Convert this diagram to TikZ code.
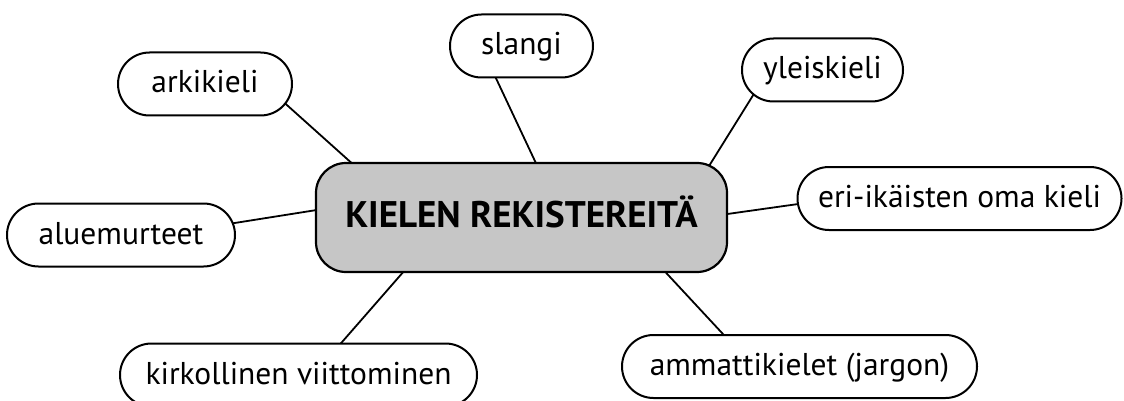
\documentclass[tikz,border=0pt]{standalone}
\usepackage{fontspec}
\setmainfont{PT Sans}
\usetikzlibrary{shapes.misc,calc,backgrounds}
\definecolor{hubgray}{RGB}{198,198,198}
\begin{document}
\begin{tikzpicture}[x=1pt,y=-1pt,
  leaf/.style={rounded rectangle, draw=black, line width=2pt, fill=white,
    minimum height=63pt, inner sep=0pt, text height=23pt, text depth=5pt,
    font=\fontsize{31.5}{38}\selectfont},
  hub/.style={rectangle, rounded corners=30pt, draw=black, line width=2.2pt,
    fill=hubgray, minimum width=411pt, minimum height=109pt, inner sep=0pt,
    text height=26pt, text depth=6pt, font=\fontsize{37}{44}\selectfont\bfseries},
  link/.style={draw=black, line width=1.8pt, shorten <=-3pt, shorten >=-3pt}]
\useasboundingbox (0,0) rectangle (1124,401);
\node[hub] (hub) at (521.5,217.5) {KIELEN REKISTEREITÄ};
\node[leaf, minimum width=174pt] (arki) at (205,84) {arkikieli};
\node[leaf, minimum width=143pt] (slangi) at (521.5,46) {slangi};
\node[leaf, minimum width=161pt] (yleis) at (822.5,70) {yleiskieli};
\node[leaf, minimum width=324pt] (eri) at (959.5,198.5) {eri-ikäisten oma kieli};
\node[leaf, minimum width=228pt] (alue) at (121,235) {aluemurteet};
\node[leaf, minimum width=357pt] (kirk) at (298.5,375) {kirkollinen viittominen};
\node[leaf, minimum width=355pt] (amm) at (799.5,366.5) {ammattikielet (jargon)};
\begin{pgfonlayer}{background}
\draw[link] (arki.-14.7) -- (hub.162.5);
\draw[link] (slangi.-128.3) -- (hub.76.1);
\draw[link] (yleis.-160.2) -- ($(hub.north east)+(-24,12)$);
\draw[link] (eri.-178.8) -- (hub.1.5);
\draw[link] (alue.6.5) -- (hub.178.7);
\draw[link] (kirk.37.6) -- (hub.-155.5);
\draw[link] (amm.157) -- (hub.-21.1);
\end{pgfonlayer}
\end{tikzpicture}
\end{document}
